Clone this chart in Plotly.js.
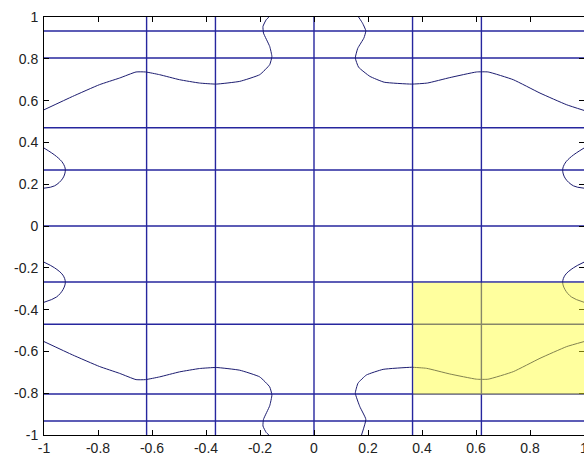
<!DOCTYPE html>
<html>
<head>
<meta charset="utf-8">
<script src="https://cdn.plot.ly/plotly-3.0.1.min.js"></script>
<style>html,body{margin:0;padding:0;background:#fff;}#chart{width:584px;height:456px;}</style>
</head>
<body>
<div id="chart"></div>
<script>
// Straight contour lines
const vLines = [-0.62, -0.365, 0, 0.365, 0.62];
const hLines = [0.933, 0.804, 0.47, 0.268, 0, -0.268, -0.47, -0.804, -0.933];

// Curved contour lines
const tlX = [-1, -0.894, -0.795, -0.72, -0.659, -0.624, -0.572, -0.498, -0.424, -0.362, -0.275, -0.201, -0.164, -0.156, -0.164, -0.187, -0.189, -0.177, -0.167];
const tlY = [0.556, 0.62, 0.676, 0.708, 0.737, 0.737, 0.724, 0.700, 0.684, 0.679, 0.692, 0.724, 0.772, 0.811, 0.859, 0.923, 0.955, 0.987, 1.0];
const trX = [0.165, 0.18, 0.192, 0.185, 0.162, 0.153, 0.165, 0.207, 0.26, 0.361, 0.42, 0.503, 0.602, 0.645, 0.738, 0.837, 0.936, 1.0];
const trY = [1.0, 0.97, 0.934, 0.9, 0.85, 0.804, 0.76, 0.716, 0.688, 0.679, 0.684, 0.71, 0.737, 0.737, 0.70, 0.636, 0.58, 0.553];
const blX = [-1, -0.894, -0.795, -0.72, -0.659, -0.624, -0.572, -0.498, -0.424, -0.362, -0.275, -0.201, -0.164, -0.156, -0.164, -0.187, -0.189, -0.177, -0.167];
const blY = [-0.553, -0.617, -0.672, -0.705, -0.735, -0.735, -0.722, -0.698, -0.682, -0.677, -0.69, -0.722, -0.77, -0.809, -0.86, -0.925, -0.957, -0.988, -1.0];
const brX = [0.176, 0.192, 0.170, 0.153, 0.163, 0.194, 0.256, 0.361, 0.417, 0.503, 0.602, 0.645, 0.738, 0.837, 0.936, 1.0];
const brY = [-1.0, -0.925, -0.865, -0.800, -0.752, -0.713, -0.686, -0.676, -0.681, -0.708, -0.733, -0.733, -0.697, -0.633, -0.577, -0.553];

const ltX = [-1, -0.954, -0.93, -0.921, -0.93, -0.961, -1];
const ltY = [0.373, 0.333, 0.301, 0.269, 0.229, 0.192, 0.181];
const rtX = [1, 0.954, 0.93, 0.921, 0.93, 0.961, 1];
const rtY = [0.373, 0.333, 0.301, 0.269, 0.229, 0.192, 0.181];
const lbX = [-1, -0.961, -0.93, -0.921, -0.93, -0.954, -1];
const lbY = [-0.173, -0.2, -0.235, -0.269, -0.305, -0.34, -0.365];
const rbX = [1, 0.961, 0.93, 0.921, 0.93, 0.954, 1];
const rbY = [-0.173, -0.2, -0.235, -0.269, -0.305, -0.34, -0.365];

// Highlight region
const boxX = [0.368, 1];
const boxY = [-0.806, -0.271];

const tickVals = [-1, -0.8, -0.6, -0.4, -0.2, 0, 0.2, 0.4, 0.6, 0.8, 1];
const tickText = ["-1", "-0.8", "-0.6", "-0.4", "-0.2", "0", "0.2", "0.4", "0.6", "0.8", "1"];

const gridColor = 'rgb(38,38,158)';
const curveColor = 'rgb(28,28,112)';

const traces = [];
const gx = [], gy = [];
vLines.forEach(v => { gx.push(v, v, null); gy.push(-1, 1, null); });
hLines.forEach(h => { gx.push(-1, 1, null); gy.push(h, h, null); });
traces.push({x: gx, y: gy, mode: 'lines', line: {color: gridColor, width: 1.4}, hoverinfo: 'skip'});

[[tlX, tlY], [trX, trY], [blX, blY], [brX, brY]].forEach(([x, y]) => {
  traces.push({x: x, y: y, mode: 'lines', line: {color: curveColor, width: 1, shape: 'spline', smoothing: 0.4}, hoverinfo: 'skip'});
});
[[ltX, ltY], [rtX, rtY], [lbX, lbY], [rbX, rbY]].forEach(([x, y]) => {
  traces.push({x: x, y: y, mode: 'lines', line: {color: curveColor, width: 1, shape: 'spline', smoothing: 1}, hoverinfo: 'skip'});
});

const axisCommon = {
  range: [-1, 1], tickvals: tickVals, ticktext: tickText,
  ticks: 'inside', ticklen: 5, tickcolor: '#000', tickwidth: 1,
  showline: true, linecolor: '#000', linewidth: 1, mirror: 'ticks',
  showgrid: false, zeroline: false, fixedrange: true,
  ticklabeloverflow: 'allow',
  tickfont: {family: 'Arial, Liberation Sans, sans-serif', size: 14, color: '#222'}
};

const layout = {
  width: 584, height: 456,
  margin: {l: 44, r: 0, t: 17, b: 21, pad: 0},
  paper_bgcolor: '#fff', plot_bgcolor: '#fff',
  showlegend: false,
  xaxis: Object.assign({}, axisCommon, {ticklabelstandoff: 0}),
  yaxis: Object.assign({}, axisCommon, {ticklabelstandoff: 2}),
  shapes: [{
    type: 'rect', xref: 'x', yref: 'y', layer: 'above',
    x0: boxX[0], x1: boxX[1], y0: boxY[0], y1: boxY[1],
    fillcolor: 'rgb(255,255,40)', opacity: 0.45, line: {width: 0}
  }]
};

Plotly.newPlot('chart', traces, layout, {staticPlot: true, displayModeBar: false});
</script>
</body>
</html>
